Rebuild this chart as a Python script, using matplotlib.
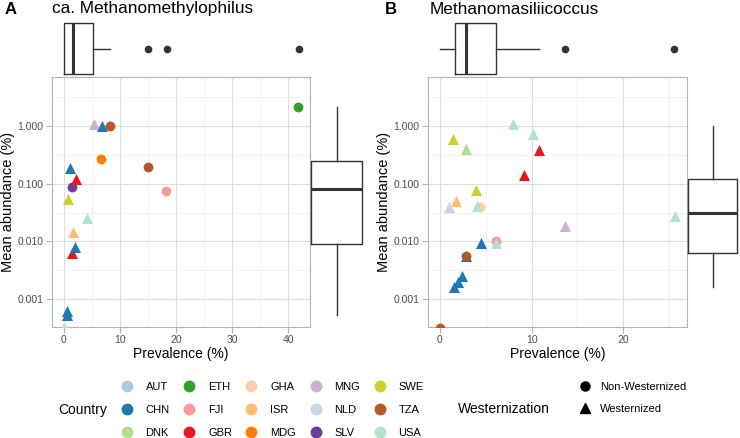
import numpy as np
import matplotlib
matplotlib.use("Agg")
import matplotlib.pyplot as plt
from matplotlib.lines import Line2D

plt.rcParams['font.family'] = ['Liberation Sans', 'DejaVu Sans']

COUNTRIES = ['AUT', 'CHN', 'DNK', 'ETH', 'FJI', 'GBR', 'GHA', 'ISR',
             'MDG', 'MNG', 'NLD', 'SLV', 'SWE', 'TZA', 'USA']
COLORS = ['#a6cee3', '#1f78b4', '#b2df8a', '#33a02c', '#fb9a99', '#e31a1c',
          '#fdcdac', '#fdbf6f', '#ff7f00', '#cab2d6', '#cbd5e8', '#6a3d9a',
          '#cfcf2f', '#b15928', '#b3e2cd']
PALETTE = dict(zip(COUNTRIES, COLORS))

# panel A: ca. Methanomethylophilus
a_prev = [0.05, 0.5, 0.6, 1.4, 2.0, 1.6, 4.1, 0.8, 1.4, 2.1, 1.2, 5.4, 6.8,
          8.3, 6.6, 15.0, 18.3, 41.8]
a_abund = [0.00033, 0.00053, 0.00063, 0.0062, 0.0081, 0.0148, 0.025, 0.054,
           0.089, 0.12, 0.19, 1.08, 1.0, 0.98, 0.27, 0.197, 0.074, 2.16]
a_country = ['USA', 'CHN', 'CHN', 'GBR', 'CHN', 'ISR', 'USA', 'SWE', 'SLV',
             'GBR', 'CHN', 'MNG', 'CHN', 'TZA', 'MDG', 'TZA', 'FJI', 'ETH']
a_western = [1, 1, 1, 1, 1, 1, 1, 1, 0, 1, 1, 1, 1, 0, 0, 0, 0, 0]

# panel B: Methanomasiliicoccus
b_prev = [0.0, 1.55, 2.0, 2.45, 2.8, 2.8, 4.45, 6.1, 6.1, 4.35, 4.0, 0.98,
          1.8, 3.9, 13.6, 25.6, 9.2, 10.8, 2.9, 1.45, 10.2, 8.0]
b_abund = [0.00032, 0.00164, 0.002, 0.0025, 0.0056, 0.0057, 0.0093, 0.0103,
           0.0095, 0.039, 0.041, 0.039, 0.0495, 0.078, 0.0185, 0.0275, 0.143,
           0.38, 0.39, 0.59, 0.73, 1.08]
b_country = ['TZA', 'CHN', 'CHN', 'CHN', 'CHN', 'TZA', 'CHN', 'FJI', 'USA',
             'GHA', 'USA', 'NLD', 'ISR', 'SWE', 'MNG', 'USA', 'GBR', 'GBR',
             'DNK', 'SWE', 'USA', 'USA']
b_western = [0, 1, 1, 1, 1, 0, 1, 0, 1, 0, 1, 1, 1, 1, 1, 1, 1, 1, 1, 1, 1, 1]

# marginal boxplot summaries
a_prev_box = dict(whislo=0, q1=0, med=1.6, q3=5.2, whishi=8.3, fliers=[15.1, 18.4, 41.9])
a_abund_box = dict(whislo=0.00053, q1=0.009, med=0.081, q3=0.25, whishi=2.1, fliers=[])
b_prev_box = dict(whislo=0, q1=1.63, med=2.83, q3=6.09, whishi=10.8, fliers=[13.7, 25.5])
b_abund_box = dict(whislo=0.0016, q1=0.0063, med=0.031, q3=0.12, whishi=1.0, fliers=[])

W, H = 740, 438
fig = plt.figure(figsize=(W / 100, H / 100), dpi=100)


def px(left, top, right, bottom):
    return [left / W, 1 - bottom / H, (right - left) / W, (bottom - top) / H]


YLIM = (3.3e-4, 7.0)
BOXSTYLE = dict(boxprops=dict(color='#333333', lw=1.0),
                whiskerprops=dict(color='#333333', lw=1.0),
                capprops=dict(lw=0),
                medianprops=dict(color='#333333', lw=2.2),
                flierprops=dict(marker='o', markerfacecolor='#333333',
                                markeredgecolor='#333333', markersize=4.5))


def scatter_panel(ax, prev, abund, country, western, xticks, xminor, xlim):
    ax.set_yscale('log')
    ax.set_ylim(*YLIM)
    ax.set_xlim(*xlim)
    for x, y, c, w in zip(prev, abund, country, western):
        ax.scatter(x, y, s=64 if w else 50, marker='^' if w else 'o',
                   color=PALETTE[c], linewidths=0, zorder=3)
    ax.set_yticks([1, 0.1, 0.01, 0.001])
    ax.set_yticklabels(['1.000', '0.100', '0.010', '0.001'])
    ax.set_yticks([10 ** 0.5, 10 ** -0.5, 10 ** -1.5, 10 ** -2.5], minor=True)
    ax.yaxis.set_minor_formatter(plt.NullFormatter())
    ax.set_xticks(xticks)
    ax.set_xticks(xminor, minor=True)
    ax.grid(True, which='major', color='#dedede', lw=0.8)
    ax.grid(True, which='minor', color='#ececec', lw=0.5)
    ax.set_axisbelow(True)
    for s in ax.spines.values():
        s.set_color('#b3b3b3')
        s.set_linewidth(0.8)
    ax.tick_params(which='major', color='#b3b3b3', length=4, labelsize=7.5,
                   labelcolor='#4d4d4d', pad=2)
    ax.tick_params(which='minor', length=0)
    ax.set_xlabel('Prevalence (%)', fontsize=10, labelpad=1)
    ax.set_ylabel('Mean abundance (%)', fontsize=10.5, labelpad=2)


def top_box(ax, stats, xlim):
    ax.bxp([stats], positions=[0.5], widths=0.9, orientation='horizontal', **BOXSTYLE)
    ax.set_xlim(*xlim)
    ax.set_ylim(0, 1)
    ax.axis('off')


def right_box(ax, stats):
    ax.set_yscale('log')
    ax.bxp([stats], positions=[0.5], widths=0.9, **BOXSTYLE)
    ax.set_ylim(*YLIM)
    ax.set_xlim(0, 1)
    ax.axis('off')


xlim_a = (-2.09, 43.9)
xlim_b = (-1.29, 26.95)

axA = fig.add_axes(px(52, 77, 310, 327))
scatter_panel(axA, a_prev, a_abund, a_country, a_western,
              [0, 10, 20, 30, 40], [5, 15, 25, 35], xlim_a)
top_box(fig.add_axes(px(52, 20, 310, 77)), a_prev_box, xlim_a)
right_box(fig.add_axes(px(308, 77, 365, 327)), a_abund_box)

axB = fig.add_axes(px(428, 77, 687, 327))
scatter_panel(axB, b_prev, b_abund, b_country, b_western,
              [0, 10, 20], [5, 15, 25], xlim_b)
top_box(fig.add_axes(px(428, 20, 687, 77)), b_prev_box, xlim_b)
right_box(fig.add_axes(px(685, 77, 740, 327)), b_abund_box)

# panel titles
fig.text(5 / W, 1 - 9 / H, 'A', fontsize=12, fontweight='bold', va='center')
fig.text(52 / W, 1 - 9 / H, 'ca. Methanomethylophilus', fontsize=12.4, va='center')
fig.text(385 / W, 1 - 9 / H, 'B', fontsize=12, fontweight='bold', va='center')
fig.text(430 / W, 1 - 9 / H, 'Methanomasiliicoccus', fontsize=12.4, va='center')

# legends
country_handles = [Line2D([], [], marker='o', ls='', color=PALETTE[c],
                          markersize=7.5, label=c) for c in COUNTRIES]
fig.text(58 / W, 1 - 410 / H, 'Country', fontsize=10, va='center')
fig.legend(handles=country_handles, ncol=5, frameon=False, fontsize=8,
           loc='center left', bbox_to_anchor=(120 / W, 1 - 410 / H),
           handletextpad=1.1, columnspacing=1.15, labelspacing=1.15,
           handlelength=1.2, borderpad=0, borderaxespad=0)

west_handles = [Line2D([], [], marker='o', ls='', color='black', markersize=6.5,
                       label='Non-Westernized'),
                Line2D([], [], marker='^', ls='', color='black', markersize=7.5,
                       label='Westernized')]
fig.text(458 / W, 1 - 409 / H, 'Westernization', fontsize=10, va='center')
fig.legend(handles=west_handles, frameon=False, fontsize=8,
           loc='center left', bbox_to_anchor=(578 / W, 1 - 398 / H),
           handletextpad=0.8, labelspacing=1.05, handlelength=1.2,
           borderpad=0, borderaxespad=0)

fig.savefig('out.png', dpi=100)
